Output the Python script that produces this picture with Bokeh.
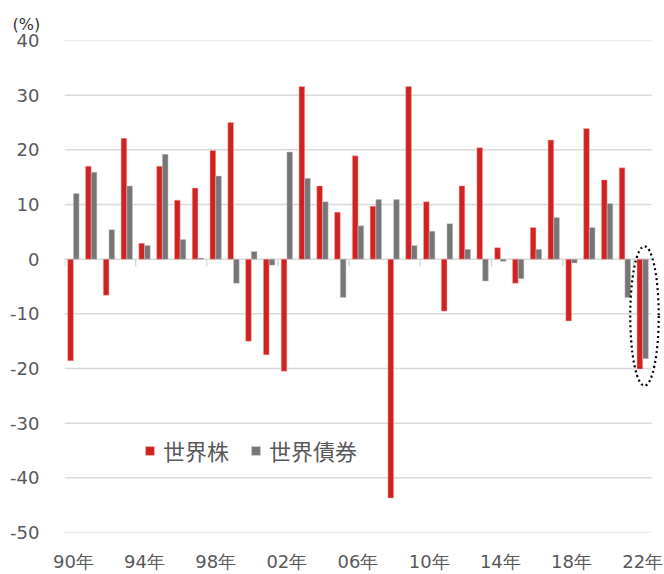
from bokeh.plotting import figure
from bokeh.models import Range1d, FixedTicker, Legend, LegendItem, ColumnDataSource, Title
from bokeh.embed import file_html
from bokeh.resources import INLINE
from bokeh.transform import dodge

years = ["90年", "91年", "92年", "93年", "94年", "95年", "96年", "97年", "98年", "99年",
         "00年", "01年", "02年", "03年", "04年", "05年", "06年", "07年", "08年", "09年",
         "10年", "11年", "12年", "13年", "14年", "15年", "16年", "17年", "18年", "19年",
         "20年", "21年", "22年"]
stocks = [-18.6, 17.0, -6.6, 22.1, 2.9, 17.0, 10.8, 13.0, 19.9, 25.0,
          -15.0, -17.5, -20.5, 31.6, 13.4, 8.6, 18.9, 9.7, -43.7, 31.6,
          10.5, -9.5, 13.4, 20.4, 2.1, -4.4, 5.8, 21.8, -11.3, 23.9,
          14.5, 16.7, -20.1]
bonds = [12.0, 15.9, 5.4, 13.4, 2.5, 19.2, 3.6, 0.2, 15.2, -4.4,
         1.4, -1.1, 19.6, 14.8, 10.5, -7.0, 6.1, 10.9, 10.9, 2.5,
         5.1, 6.5, 1.8, -4.0, -0.4, -3.6, 1.8, 7.6, -0.7, 5.8,
         10.2, -7.0, -18.2]
y_ticks = [-50, -40, -30, -20, -10, 0, 10, 20, 30, 40]
y_tick_labels = ["-50", "-40", "-30", "-20", "-10", "0", "10", "20", "30", "40"]
label_every = 4
series_names = ["世界株", "世界債券"]
unit_label = "(%)"

RED = "#d22121"
GRAY = "#767676"
TXT = "#595959"
GRID = "#d9d9d9"
CJK = "Noto Sans CJK JP"
NUMF = "DejaVu Sans"

n = len(years)
idx = list(range(n))
src = ColumnDataSource(dict(x=idx, stocks=stocks, bonds=bonds))

p = figure(width=664, height=574, output_backend="svg", toolbar_location=None,
           x_range=Range1d(-0.5, n), y_range=Range1d(y_ticks[0], y_ticks[-1]),
           min_border_left=64, min_border_right=4, min_border_top=40, min_border_bottom=39)
p.outline_line_color = None
p.xgrid.grid_line_color = None
p.ygrid.grid_line_color = None

p.title = Title(text=unit_label, align="left", offset=-52, standoff=13,
                text_font=NUMF, text_font_size="16px", text_font_style="normal",
                text_color="#333333")

# gridlines across the category span
p.segment(x0=[-0.5] * len(y_ticks), x1=[n - 0.5] * len(y_ticks), y0=y_ticks, y1=y_ticks,
          line_color=GRID, line_width=1.5)
# category tick marks hanging from zero line
tick_x = [i - 0.5 for i in range(0, n, label_every)]
p.segment(x0=tick_x, x1=tick_x, y0=[0] * len(tick_x), y1=[-1.3] * len(tick_x),
          line_color=GRID, line_width=1.5)

r1 = p.vbar(x=dodge("x", -0.16, range=p.x_range), top="stocks", width=0.32, source=src,
            fill_color=RED, line_color="#f0b0b0", line_width=0.5)
r2 = p.vbar(x=dodge("x", 0.16, range=p.x_range), top="bonds", width=0.32, source=src,
            fill_color=GRAY, line_color="#c8c8c8", line_width=0.5)

# dotted ellipse highlighting the last year
p.ellipse(x=n - 1 + 0.1, y=-10.4, width=1.6, height=25.5, fill_color=None,
          line_color="black", line_width=2.2, line_dash="2 3")

# axes
for ax in (p.xaxis[0], p.yaxis[0]):
    ax.axis_line_color = None
    ax.major_tick_line_color = None
    ax.minor_tick_line_color = None
    ax.major_tick_out = 0
    ax.major_tick_in = 0
    ax.minor_tick_out = 0
    ax.minor_tick_in = 0
    ax.axis_label_standoff = 0
    ax.major_label_text_font = NUMF
    ax.major_label_text_font_size = "18px"
    ax.major_label_text_color = TXT

p.yaxis.ticker = FixedTicker(ticks=y_ticks)
p.yaxis.major_label_overrides = dict(zip(y_ticks, y_tick_labels))
p.yaxis.major_label_standoff = 25

xt = list(range(0, n, label_every))
p.xaxis.ticker = FixedTicker(ticks=xt)
p.xaxis.major_label_overrides = {i: years[i] for i in xt}
p.xaxis.major_label_standoff = 18

legend = Legend(items=[LegendItem(label=series_names[0], renderers=[r1]),
                       LegendItem(label=series_names[1], renderers=[r2])],
                orientation="horizontal", location=(80, 66),
                label_text_font=CJK, label_text_font_size="22px", label_text_color=TXT,
                glyph_width=11, glyph_height=11, label_standoff=8, spacing=21,
                padding=0, margin=0, border_line_alpha=0, background_fill_alpha=0)
p.add_layout(legend)

open("out.html", "w").write(file_html(p, INLINE))
